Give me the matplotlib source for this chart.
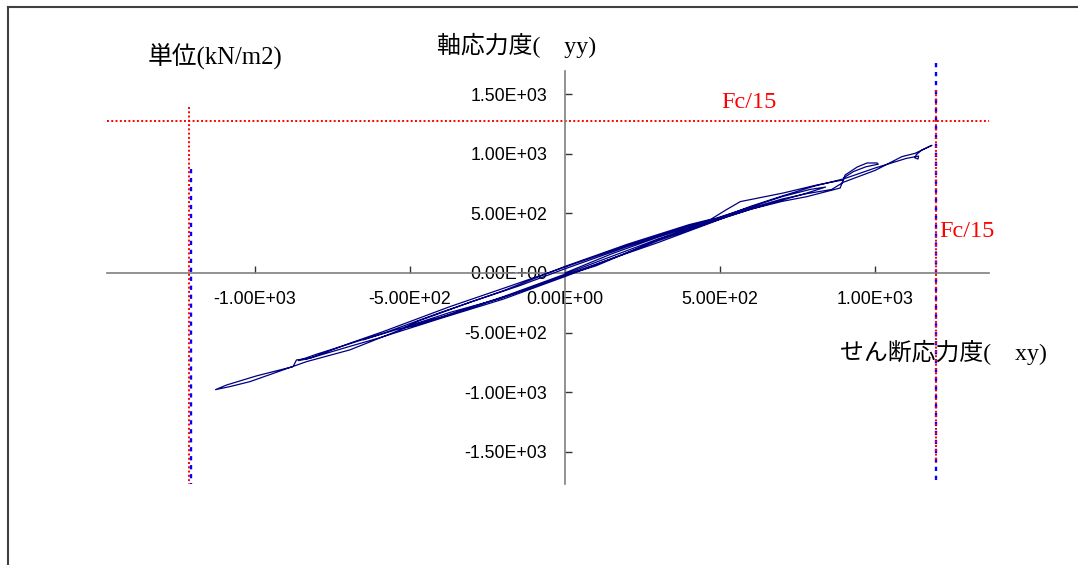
import matplotlib.pyplot as plt
from matplotlib.ticker import FixedLocator, FuncFormatter
from matplotlib.lines import Line2D

# shear stress (x) vs axial stress (y), kN/m2
stress_xy = [0, 150, 300, 470, 520, 470, 300, 150, 0, -150, -300, -480, -520, -470, -300, -150, 0,
             200, 400, 470, 560, 700, 790, 840, 780, 700, 600, 470, 300, 100, 0, -200, -400, -600,
             -700, -830, -860, -800, -690, -580, -400, -200, 0,
             200, 400, 470, 520, 565, 703, 813, 897, 903, 942, 974, 1006, 1010, 970, 930, 900, 887,
             780, 700, 600, 470, 300, 100, 0, -210, -370, -478, -694, -833, -1016, -1081, -1127,
             -1091, -995, -877, -866, -823, -694, -587, -371, -200, 0,
             200, 400, 470, 600, 700, 780, 860, 897, 1000, 1086, 1129, 1183, 1150, 1132, 1128, 1138,
             1140, 1100, 1000, 900, 800, 700, 600, 470, 300, 100, 0, -200, -400, -550, -650]
stress_yy = [0, 160, 300, 440, 470, 420, 255, 120, -20, -160, -290, -440, -460, -400, -240, -110, 35,
             220, 395, 445, 520, 640, 700, 720, 670, 610, 535, 425, 270, 70, -30, -220, -380, -545,
             -620, -720, -735, -680, -590, -500, -330, -150, 55,
             240, 405, 450, 530, 598, 670, 738, 780, 821, 888, 922, 922, 912, 890, 850, 800, 712,
             640, 600, 535, 430, 280, 60, -20, -215, -330, -422, -645, -743, -911, -953, -978,
             -939, -863, -785, -729, -715, -589, -492, -282, -130, 50,
             230, 395, 440, 545, 620, 665, 700, 760, 860, 975, 1003, 1070, 1030, 990, 965, 955,
             980, 960, 880, 790, 725, 645, 560, 435, 285, 90, -10, -200, -370, -480, -560]

x_ticks = [-1000, -500, 0, 500, 1000]
y_ticks = [-1500, -1000, -500, 0, 500, 1000, 1500]

# Fc/15 limit lines
fc_shear_left = -1214
fc_shear_right = 1197
fc_axial = 1277
blue_left = -1207

xlim = (-1477, 1367)
ylim = (-1765, 1693)

jp = ['Liberation Serif', 'Noto Sans CJK JP']

fig = plt.figure(figsize=(10.78, 5.65), dpi=100)
ax = fig.add_axes([107 / 1078, 1 - 483.5 / 565, 882 / 1078, 412.5 / 565])
ax.set_xlim(*xlim)
ax.set_ylim(*ylim)

for s in ['top', 'right']:
    ax.spines[s].set_visible(False)
for s in ['left', 'bottom']:
    ax.spines[s].set_position(('data', 0))
    ax.spines[s].set_color('#7f7f7f')
    ax.spines[s].set_linewidth(1.2)

ax.xaxis.set_major_locator(FixedLocator(x_ticks))
ax.yaxis.set_major_locator(FixedLocator(y_ticks))
fmt = FuncFormatter(lambda v, p: f'{v:.2E}')
ax.xaxis.set_major_formatter(fmt)
ax.yaxis.set_major_formatter(fmt)
ax.tick_params(direction='in', length=5, width=1, color='#333333',
               labelsize=12.8, labelfontfamily='Liberation Sans')
ax.tick_params(axis='x', pad=13)
ax.tick_params(axis='y', pad=13)

ax.plot(stress_xy, stress_yy, color='#000080', lw=0.9, zorder=3)

# limit lines
red = dict(color='#ff0000', lw=1.4, ls=(0, (1, 1.2)), clip_on=False, zorder=2)
blue = dict(color='#0000ff', lw=1.7, ls=(0, (1.8, 2)), clip_on=False, zorder=2)
ax.plot(xlim, [fc_axial, fc_axial], **red)
ax.plot([blue_left, blue_left], [872, ylim[0]], **blue)
ax.plot([fc_shear_right, fc_shear_right], [1760, ylim[0]], **blue)
ax.plot([fc_shear_left, fc_shear_left], [1391, ylim[0]], **red)
ax.plot([fc_shear_right, fc_shear_right], [1534, -1590], **red)

ax.text(594, 1433, 'Fc/15', color='#ff0000', fontsize=17.5, family='Liberation Serif',
        ha='center', va='center')
ax.text(1207, 344, 'Fc/15', color='#ff0000', fontsize=17.5, family='Liberation Serif',
        ha='left', va='center')

fig.text(148 / 1078, 1 - 57 / 565, '単位(kN/m2)', fontsize=17.8, family=jp, va='center')
fig.text(437 / 1078, 1 - 45 / 565, '軸応力度(\u3000yy)', fontsize=17.2, family=jp, va='center')
fig.text(840 / 1078, 1 - 352 / 565, 'せん断応力度(\u3000xy)', fontsize=17.2, family=jp, va='center')

# outer frame
fig.add_artist(Line2D([8 / 1078, 1], [1 - 7 / 565] * 2, color='#404040', lw=1.5,
                      transform=fig.transFigure))
fig.add_artist(Line2D([8 / 1078] * 2, [0, 1 - 7 / 565], color='#404040', lw=1.5,
                      transform=fig.transFigure))

fig.savefig('out.png', dpi=100)
